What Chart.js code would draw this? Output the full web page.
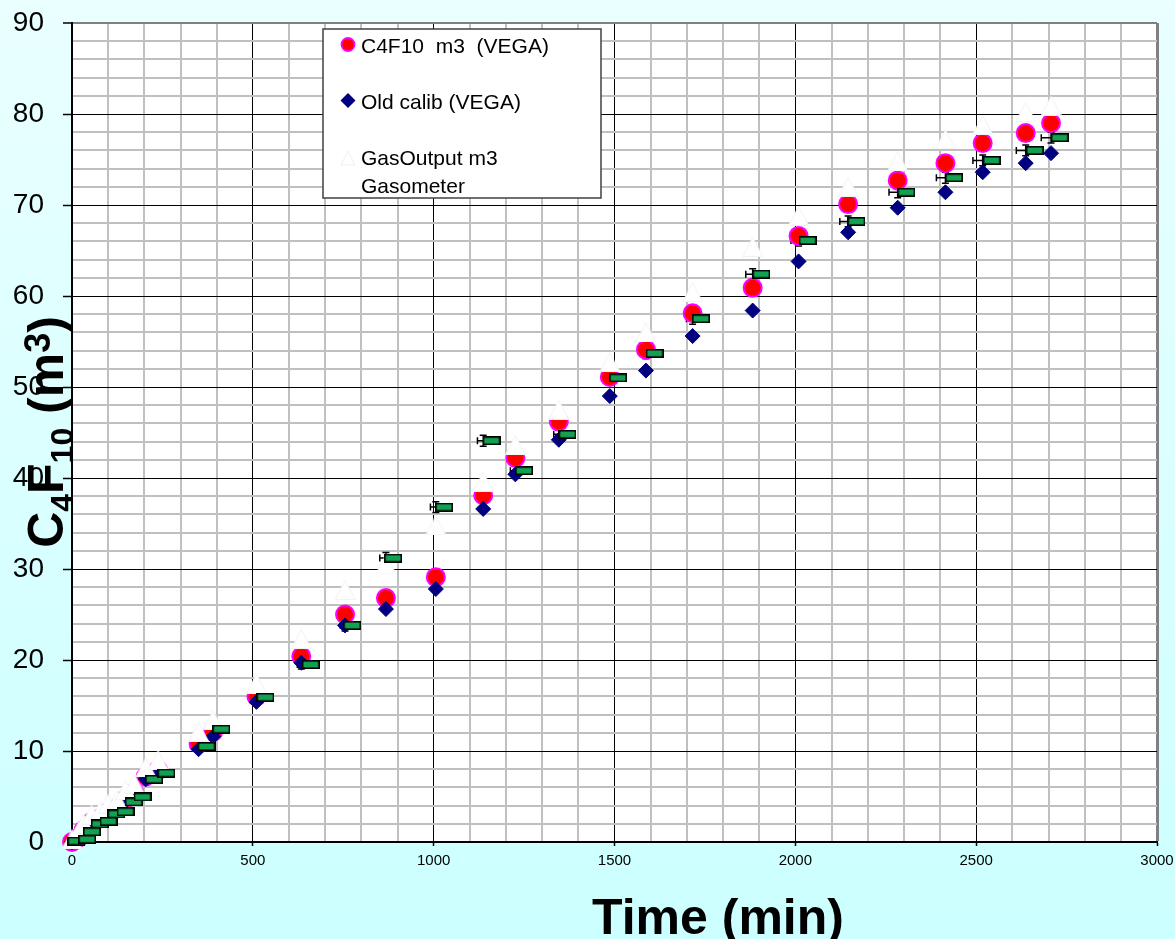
<!DOCTYPE html>
<html>
<head>
<meta charset="utf-8">
<script src="https://cdn.jsdelivr.net/npm/chart.js@4.4.0/dist/chart.umd.min.js"></script>
<style>
  html, body { margin: 0; padding: 0; }
  body { width: 1175px; height: 939px; overflow: hidden; background: linear-gradient(#eaffff, #ccffff); }
  canvas { display: block; }
</style>
</head>
<body>
<canvas id="chart" width="1175" height="939"></canvas>
<script>

// ---- data ----

// VEGA reading times (min)
const vegaTime = [0, 19, 32, 54, 78, 100, 125, 148, 172, 204, 238, 350, 390, 510, 634, 755, 868, 1006, 1137, 1226, 1346, 1487, 1587, 1716, 1882, 2009, 2146, 2283, 2415, 2518, 2637, 2707];

// C4F10 m3 (VEGA)
const c4f10Vega = [0, 0.5, 1.3, 2.2, 2.6, 3.3, 3.7, 4.7, 5.4, 7.2, 7.9, 10.8, 12.1, 16.0, 20.4, 25.0, 26.8, 29.1, 38.1, 42.2, 46.2, 51.1, 54.1, 58.1, 60.9, 66.6, 70.1, 72.7, 74.6, 76.8, 77.9, 79.0];

// Old calib (VEGA)
const oldCalib = [0, 0.4, 1.2, 2.1, 2.5, 3.1, 3.5, 4.5, 5.2, 6.9, 7.6, 10.2, 11.6, 15.4, 19.7, 23.8, 25.6, 27.8, 36.6, 40.4, 44.2, 49.0, 51.8, 55.6, 58.4, 63.8, 67.0, 69.7, 71.4, 73.6, 74.6, 75.7];

// GasOutput m3 Gasometer
const gasometer = [0.3, 1.2, 2.0, 3.0, 3.4, 4.2, 4.6, 5.7, 6.4, 8.2, 9.0, 12.1, 13.4, 17.4, 22.3, 27.7, 30.5, 34.8, 39.6, 43.6, 47.5, 52.7, 56.0, 60.4, 65.4, 68.8, 72.0, 74.8, 77.2, 78.8, 80.2, 80.9];

// green boxes (not in legend)
const boxTime = [12, 42, 55, 77, 101, 123, 148, 171, 195, 227, 261, 372, 413, 535, 660, 775, 888, 1029, 1160, 1250, 1370, 1510, 1611, 1739, 1906, 2034, 2169, 2307, 2439, 2543, 2662, 2731];
const boxValue = [0.1, 0.3, 1.13, 1.98, 2.27, 3.08, 3.33, 4.4, 4.95, 6.89, 7.58, 10.5, 12.4, 15.9, 19.5, 23.8, 31.2, 36.8, 44.1, 40.8, 44.8, 51.0, 53.7, 57.5, 62.4, 66.1, 68.2, 71.4, 73.0, 74.9, 76.0, 77.4];

// error bars, centred on the VEGA time at the box value
const timeErr = [6, 6, 6, 6, 6, 6, 6, 6, 6, 7, 7, 8, 8, 10, 11, 13, 17, 15, 16, 14, 14, 15, 15, 17, 19, 21, 23, 24, 25, 27, 26, 27];
const valueErr = [0.3, 0.3, 0.3, 0.3, 0.3, 0.3, 0.3, 0.3, 0.3, 0.4, 0.4, 0.5, 0.5, 0.5, 0.5, 0.6, 0.6, 0.6, 0.6, 0.6, 0.6, 0.6, 0.6, 0.6, 0.6, 0.6, 0.6, 0.6, 0.6, 0.6, 0.6, 0.6];

// tick labels
const xTickLabels = [0, 500, 1000, 1500, 2000, 2500, 3000];
const yTickLabels = [0, 10, 20, 30, 40, 50, 60, 70, 80, 90];

// legend + titles
const legendLabels = ['C4F10  m3  (VEGA)', 'Old calib (VEGA)', 'GasOutput m3', 'Gasometer'];
const yTitleParts = [['C', 'n'], ['4', 'sub'], ['F', 'n'], ['10', 'sub'], [' (', 'n'], ['m', 'n'], ['3', 'sup'], [')', 'n']];
const xTitle = 'Time (min)';

const FONT = "'Liberation Sans', Arial, Helvetica, sans-serif";


// ---- marker images ----

function greenBox() {
    const c = document.createElement('canvas');
    c.width = 18;
    c.height = 9;
    const g = c.getContext('2d');
    g.fillStyle = '#12a150';
    g.fillRect(0, 0, 18, 9);
    g.strokeStyle = '#000';
    g.lineWidth = 1.6;
    g.strokeRect(0.8, 0.8, 16.4, 7.4);
    return c;
}

function whiteTriangle(w, h) {
    const c = document.createElement('canvas');
    c.width = w;
    c.height = h;
    const g = c.getContext('2d');
    g.beginPath();
    g.moveTo(w / 2, 0.5);
    g.lineTo(w - 0.5, h - 0.5);
    g.lineTo(0.5, h - 0.5);
    g.closePath();
    g.fillStyle = '#fff';
    g.fill();
    g.strokeStyle = '#f2f2f2';
    g.lineWidth = 1;
    g.stroke();
    return c;
}

const toPoints = (xs, ys) => xs.map((x, i) => ({ x: x, y: ys[i] }));


// ---- plugins ----

// white plot area
const plotBackground = {
    id: 'plotBackground',
    beforeDraw(chart) {
        const a = chart.chartArea;
        const ctx = chart.ctx;
        ctx.save();
        ctx.fillStyle = '#fff';
        ctx.fillRect(a.left, a.top, a.right - a.left, a.bottom - a.top);
        ctx.restore();
    }
};

// x / y error bars under the markers
const errorBars = {
    id: 'errorBars',
    beforeDatasetsDraw(chart) {
        const xs = chart.scales.x;
        const ys = chart.scales.y;
        const ctx = chart.ctx;
        ctx.save();
        ctx.strokeStyle = '#000';
        ctx.lineWidth = 1.5;
        for (let i = 0; i < vegaTime.length; i++) {
            const cx = xs.getPixelForValue(vegaTime[i]);
            const cy = ys.getPixelForValue(boxValue[i]);
            const x1 = xs.getPixelForValue(vegaTime[i] - timeErr[i]);
            const x2 = xs.getPixelForValue(vegaTime[i] + timeErr[i]);
            const y1 = ys.getPixelForValue(boxValue[i] + valueErr[i]);
            const y2 = ys.getPixelForValue(boxValue[i] - valueErr[i]);
            ctx.beginPath();
            ctx.moveTo(x1, cy); ctx.lineTo(x2, cy);
            ctx.moveTo(x1, cy - 3.5); ctx.lineTo(x1, cy + 3.5);
            ctx.moveTo(x2, cy - 3.5); ctx.lineTo(x2, cy + 3.5);
            ctx.moveTo(cx, y1); ctx.lineTo(cx, y2);
            ctx.moveTo(cx - 3.5, y1); ctx.lineTo(cx + 3.5, y1);
            ctx.moveTo(cx - 3.5, y2); ctx.lineTo(cx + 3.5, y2);
            ctx.stroke();
        }
        ctx.restore();
    }
};

// legend box, axis titles
const decorations = {
    id: 'decorations',
    afterDraw(chart) {
        const ctx = chart.ctx;
        ctx.save();

        // legend
        ctx.fillStyle = '#fff';
        ctx.fillRect(323, 29, 278, 169);
        ctx.strokeStyle = '#404040';
        ctx.lineWidth = 1.5;
        ctx.strokeRect(323, 29, 278, 169);

        ctx.beginPath();
        ctx.arc(348, 44.5, 6.5, 0, Math.PI * 2);
        ctx.fillStyle = '#ff0000';
        ctx.fill();
        ctx.strokeStyle = '#ff00ff';
        ctx.lineWidth = 1.8;
        ctx.stroke();

        ctx.beginPath();
        ctx.moveTo(348, 93); ctx.lineTo(355.5, 100.5); ctx.lineTo(348, 108); ctx.lineTo(340.5, 100.5);
        ctx.closePath();
        ctx.fillStyle = '#000080';
        ctx.fill();

        ctx.beginPath();
        ctx.moveTo(348, 151); ctx.lineTo(355, 165); ctx.lineTo(341, 165);
        ctx.closePath();
        ctx.fillStyle = '#fff';
        ctx.fill();
        ctx.strokeStyle = '#f0f0f0';
        ctx.lineWidth = 1;
        ctx.stroke();

        ctx.fillStyle = '#000';
        ctx.font = '21px ' + FONT;
        ctx.textAlign = 'left';
        ctx.textBaseline = 'alphabetic';
        ctx.fillText(legendLabels[0], 361, 52.5);
        ctx.fillText(legendLabels[1], 361, 108.5);
        ctx.fillText(legendLabels[2], 361, 165);
        ctx.fillText(legendLabels[3], 361, 193);

        // x title
        ctx.font = 'bold 50px ' + FONT;
        ctx.textAlign = 'center';
        ctx.fillText(xTitle, 718, 934);

        // y title, rotated, with sub/superscripts
        const fonts = { n: 'bold 50px ' + FONT, sub: 'bold 32px ' + FONT, sup: 'bold 36px ' + FONT };
        const shift = { n: 0, sub: 10, sup: -13 };
        let total = 0;
        yTitleParts.forEach(p => {
            ctx.font = fonts[p[1]];
            total += ctx.measureText(p[0]).width;
        });
        ctx.translate(63, 432);
        ctx.rotate(-Math.PI / 2);
        ctx.textAlign = 'left';
        let pos = -total / 2;
        yTitleParts.forEach(p => {
            ctx.font = fonts[p[1]];
            ctx.fillText(p[0], pos, shift[p[1]]);
            pos += ctx.measureText(p[0]).width;
        });

        ctx.restore();
    }
};


// ---- chart ----

const ctx = document.getElementById('chart').getContext('2d');

new Chart(ctx, {
    type: 'scatter',
    data: {
        datasets: [
            {
                label: 'gas boxes',
                data: toPoints(boxTime, boxValue),
                pointStyle: greenBox(),
                order: 0,
                clip: false
            },
            {
                label: 'GasOutput m3 Gasometer',
                data: toPoints(vegaTime, gasometer),
                pointStyle: whiteTriangle(21, 20),
                order: 1,
                clip: false
            },
            {
                label: 'Old calib (VEGA)',
                data: toPoints(vegaTime, oldCalib),
                pointStyle: 'rectRot',
                pointRadius: 7.5,
                pointBorderWidth: 1,
                backgroundColor: '#000080',
                borderColor: '#000080',
                order: 2,
                clip: false
            },
            {
                label: 'C4F10  m3  (VEGA)',
                data: toPoints(vegaTime, c4f10Vega),
                pointStyle: 'circle',
                pointRadius: 9,
                pointBorderWidth: 2,
                backgroundColor: '#ff0000',
                borderColor: '#ff00ff',
                order: 3,
                clip: false
            }
        ]
    },
    options: {
        responsive: false,
        animation: false,
        layout: { padding: { top: 23, right: 18, left: 0, bottom: 0 } },
        plugins: {
            legend: { display: false },
            tooltip: { enabled: false }
        },
        scales: {
            x: {
                type: 'linear',
                min: 0,
                max: 3000,
                afterFit: s => {
                    s.height = 97;
                    s.paddingLeft = 0;
                    s.paddingRight = 0;
                },
                ticks: {
                    stepSize: 100,
                    autoSkip: false,
                    maxRotation: 0,
                    color: '#000',
                    padding: 6,
                    font: { family: FONT, size: 15 },
                    callback: v => xTickLabels.includes(Math.round(v)) ? String(Math.round(v)) : ''
                },
                grid: {
                    color: c => {
                        const v = Math.round(c.tick.value);
                        if (v === 3000) return '#808080';
                        return v % 500 === 0 ? '#000' : '#c0c0c0';
                    },
                    lineWidth: c => {
                        const v = Math.round(c.tick.value);
                        if (v === 3000) return 3;
                        return v % 500 === 0 ? 1 : 2;
                    },
                    tickLength: 4,
                    tickWidth: 1.5,
                    tickColor: c => Math.round(c.tick.value) % 500 === 0 ? '#000' : 'rgba(0,0,0,0)'
                },
                border: { color: '#000', width: 2 }
            },
            y: {
                type: 'linear',
                min: 0,
                max: 90,
                afterFit: s => {
                    s.width = 72;
                    s.paddingTop = 0;
                    s.paddingBottom = 0;
                },
                ticks: {
                    stepSize: 2,
                    autoSkip: false,
                    color: '#000',
                    padding: 19,
                    font: { family: FONT, size: 28 },
                    callback: v => yTickLabels.includes(Math.round(v)) ? String(Math.round(v)) : ''
                },
                grid: {
                    color: c => {
                        const v = Math.round(c.tick.value);
                        if (v === 90) return '#808080';
                        return v % 10 === 0 ? '#000' : '#c0c0c0';
                    },
                    lineWidth: c => {
                        const v = Math.round(c.tick.value);
                        if (v === 90) return 2;
                        return v % 10 === 0 ? 1 : 2;
                    },
                    tickLength: 9,
                    tickWidth: 1.5,
                    tickColor: c => Math.round(c.tick.value) % 10 === 0 ? '#000' : 'rgba(0,0,0,0)'
                },
                border: { color: '#000', width: 2 }
            }
        }
    },
    plugins: [plotBackground, errorBars, decorations]
});

</script>
</body>
</html>
